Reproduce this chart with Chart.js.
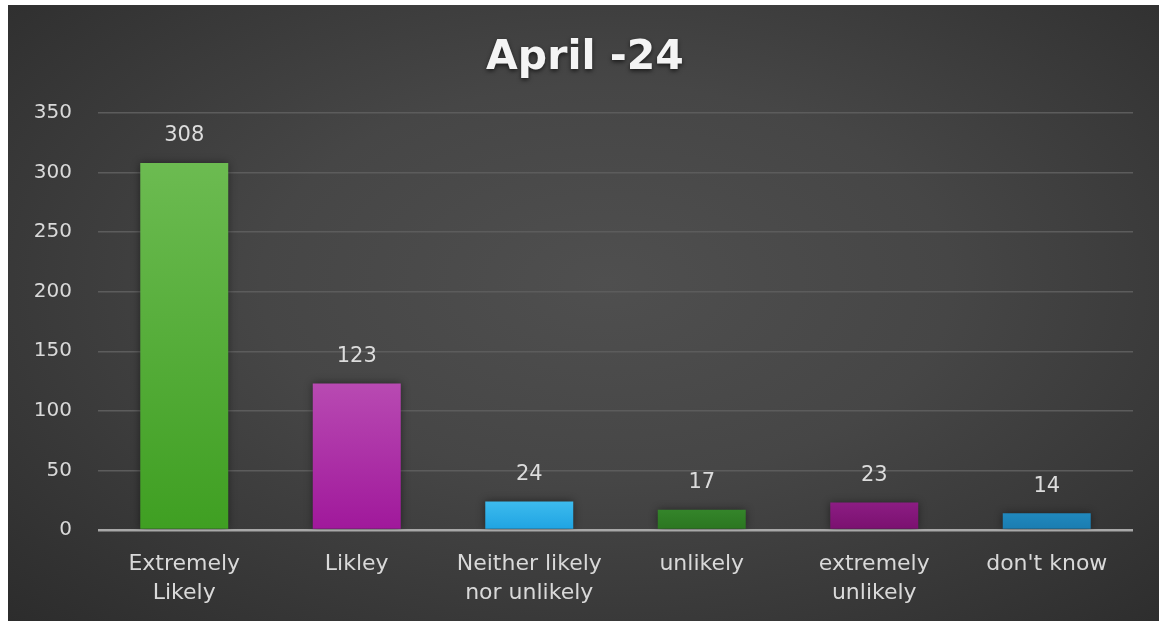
<!DOCTYPE html>
<html>
<head>
<meta charset="utf-8">
<title>April -24</title>
<script src="https://cdn.jsdelivr.net/npm/chart.js@4.4.1/dist/chart.umd.min.js"></script>
<style>
    body { margin: 0; background: #ffffff; width: 1159px; height: 621px; overflow: hidden; }
    #wrap {
        position: absolute; left: 8px; top: 5px; width: 1151px; height: 616px;
        background: radial-gradient(ellipse 75% 80% at 52% 45%, #4f4f4f 0%, #464646 40%, #2b2b2b 100%);
    }
</style>
</head>
<body>
<div id="wrap"><canvas id="chartApril"></canvas></div>
<script>
// Datos del grafico
const titleText = 'April -24';
const categories = [['Extremely', 'Likely'], 'Likley', ['Neither likely', 'nor unlikely'], 'unlikely', ['extremely', 'unlikely'], "don't know"];
const values = [308, 123, 24, 17, 23, 14];
const yTicks = [0, 50, 100, 150, 200, 250, 300, 350];

// Colores de barras (arriba / abajo)
const barTop = ['#6cbb51', '#b84ab2', '#3dbbee', '#34852a', '#8c1d83', '#2088bd'];
const barBottom = ['#3f9f22', '#a0189b', '#1ea3e2', '#2b7520', '#7a106f', '#1a7cb0'];

const FONT = "'DejaVu Sans', Verdana, sans-serif";

/**
 * Gradient per bar, from its top to the baseline
 */
function barFill(ctx) {
    const chart = ctx.chart;
    const i = ctx.dataIndex;
    const y = chart.scales && chart.scales.y;
    if (!y || !chart.chartArea) return barBottom[i];
    const top = y.getPixelForValue(values[i]);
    const base = y.getPixelForValue(0);
    const g = chart.ctx.createLinearGradient(0, top, 0, base);
    g.addColorStop(0, barTop[i]);
    g.addColorStop(1, barBottom[i]);
    return g;
}

// Sombra suave de las barras
const barShadow = {
    id: 'barShadow',
    beforeDatasetsDraw(chart) {
        const c = chart.ctx;
        c.save();
        c.shadowColor = 'rgba(0,0,0,0.45)';
        c.shadowBlur = 8;
    },
    afterDatasetsDraw(chart) {
        chart.ctx.restore();
    }
};

// Titulo (centrado sobre el area, con sombra)
const titleDraw = {
    id: 'titleDraw',
    afterDraw(chart) {
        const c = chart.ctx;
        c.save();
        c.font = `bold 41px ${FONT}`;
        c.fillStyle = '#f4f4f4';
        c.textAlign = 'center';
        c.textBaseline = 'middle';
        c.shadowColor = 'rgba(0,0,0,0.6)';
        c.shadowBlur = 4;
        c.shadowOffsetY = 2;
        c.fillText(titleText, 577, 53);
        c.restore();
    }
};

// Etiquetas de valor sobre las barras
const valueLabels = {
    id: 'valueLabels',
    afterDraw(chart) {
        const c = chart.ctx;
        const meta = chart.getDatasetMeta(0);
        c.save();
        c.font = `21px ${FONT}`;
        c.fillStyle = '#dcdcdc';
        c.textAlign = 'center';
        c.textBaseline = 'middle';
        meta.data.forEach((bar, i) => {
            c.fillText(String(values[i]), bar.x, bar.y - 27);
        });
        c.restore();
    }
};

new Chart(document.getElementById('chartApril'), {
    type: 'bar',
    data: {
        labels: categories,
        datasets: [{
            data: values,
            backgroundColor: barFill,
            borderWidth: 0,
            barPercentage: 0.51,
            categoryPercentage: 1
        }]
    },
    options: {
        responsive: true,
        maintainAspectRatio: false,
        animation: false,
        layout: { padding: { left: 0, right: 26, top: 108, bottom: 0 } },
        plugins: {
            legend: { display: false },
            tooltip: { enabled: false },
            title: { display: false }
        },
        scales: {
            x: {
                grid: { display: false, drawTicks: false },
                border: { display: false },
                ticks: {
                    color: '#d9d9d9',
                    font: { family: FONT, size: 22, lineHeight: 1.3 },
                    padding: 20,
                    maxRotation: 0,
                    autoSkip: false
                },
                afterFit(scale) { scale.height = 91; }
            },
            y: {
                min: 0,
                max: 350,
                afterBuildTicks(scale) { scale.ticks = yTicks.map(v => ({ value: v })); },
                grid: {
                    drawTicks: false,
                    color: (ctx) => ctx.tick && ctx.tick.value === 0 ? '#a8a8a8' : '#5c5c5c',
                    lineWidth: (ctx) => ctx.tick && ctx.tick.value === 0 ? 2.5 : 1.5
                },
                border: { display: false },
                ticks: {
                    color: '#d9d9d9',
                    font: { family: FONT, size: 20 },
                    padding: 26
                },
                afterFit(scale) { scale.width = 90; }
            }
        }
    },
    plugins: [barShadow, valueLabels, titleDraw]
});
</script>
</body>
</html>
